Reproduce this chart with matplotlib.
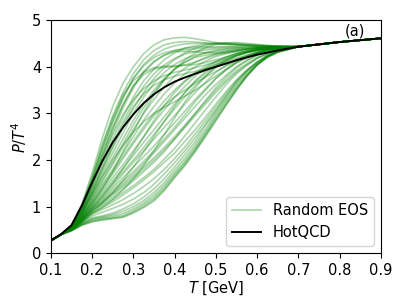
import matplotlib
matplotlib.use("Agg")
import matplotlib.pyplot as plt
import numpy as np

# temperature grid (GeV)
T_low = [0.1, 0.125]
T_mid = [0.15, 0.175, 0.2, 0.225, 0.25, 0.275, 0.3, 0.325, 0.35, 0.375, 0.4,
         0.425, 0.45, 0.475, 0.5, 0.525, 0.55, 0.575, 0.6, 0.625, 0.65]
T_high = [0.7, 0.8, 0.9]
hrg_start = [0.27, 0.40]       # common values at T = 0.1, 0.125
qgp_tail = [4.43, 4.53, 4.61]  # common values at T = 0.7, 0.8, 0.9

# P/T^4 of each random EOS on T_mid
rand_mid = [
    [.60, 1.05, 1.72, 2.48, 3.15, 3.65, 4.00, 4.28, 4.47, 4.58, 4.62, 4.63, 4.60, 4.56, 4.52, 4.50, 4.48, 4.47, 4.45, 4.44, 4.44],
    [.59, 1.02, 1.65, 2.35, 2.95, 3.45, 3.85, 4.15, 4.35, 4.47, 4.52, 4.54, 4.53, 4.51, 4.50, 4.48, 4.47, 4.46, 4.45, 4.44, 4.44],
    [.58, .98, 1.55, 2.20, 2.80, 3.32, 3.75, 4.05, 4.25, 4.38, 4.45, 4.49, 4.50, 4.50, 4.49, 4.48, 4.47, 4.46, 4.45, 4.44, 4.44],
    [.59, .99, 1.60, 2.30, 2.90, 3.40, 3.70, 3.88, 3.98, 4.01, 4.02, 4.03, 4.05, 4.09, 4.15, 4.21, 4.28, 4.33, 4.38, 4.41, 4.42],
    [.57, .92, 1.45, 2.05, 2.60, 3.12, 3.55, 3.88, 4.10, 4.25, 4.35, 4.40, 4.42, 4.43, 4.43, 4.43, 4.43, 4.43, 4.43, 4.43, 4.43],
    [.58, .94, 1.50, 2.12, 2.70, 3.20, 3.60, 3.83, 3.95, 3.99, 4.00, 4.04, 4.10, 4.18, 4.25, 4.30, 4.35, 4.38, 4.40, 4.41, 4.42],
    [.57, .90, 1.40, 1.92, 2.45, 2.92, 3.35, 3.70, 3.95, 4.15, 4.30, 4.40, 4.45, 4.48, 4.50, 4.49, 4.48, 4.46, 4.45, 4.44, 4.43],
    [.56, .88, 1.35, 1.85, 2.35, 2.82, 3.25, 3.58, 3.85, 4.04, 4.18, 4.27, 4.33, 4.36, 4.38, 4.39, 4.40, 4.40, 4.41, 4.41, 4.42],
    [.57, .91, 1.42, 2.00, 2.55, 2.98, 3.30, 3.53, 3.70, 3.81, 3.88, 3.93, 3.98, 4.04, 4.10, 4.17, 4.24, 4.30, 4.35, 4.38, 4.41],
    [.56, .86, 1.30, 1.78, 2.25, 2.70, 3.10, 3.45, 3.75, 3.98, 4.15, 4.30, 4.40, 4.46, 4.50, 4.51, 4.50, 4.48, 4.47, 4.45, 4.44],
    [.56, .85, 1.28, 1.72, 2.15, 2.58, 3.00, 3.35, 3.65, 3.88, 4.05, 4.17, 4.25, 4.30, 4.33, 4.35, 4.37, 4.38, 4.40, 4.41, 4.42],
    [.55, .84, 1.25, 1.65, 2.05, 2.45, 2.85, 3.20, 3.50, 3.75, 3.95, 4.10, 4.22, 4.30, 4.35, 4.38, 4.40, 4.41, 4.42, 4.42, 4.43],
    [.56, .87, 1.32, 1.82, 2.30, 2.75, 3.15, 3.42, 3.60, 3.72, 3.80, 3.85, 3.90, 3.95, 4.00, 4.07, 4.15, 4.23, 4.30, 4.36, 4.40],
    [.55, .82, 1.20, 1.58, 1.95, 2.35, 2.75, 3.12, 3.45, 3.72, 3.95, 4.15, 4.30, 4.41, 4.48, 4.51, 4.52, 4.50, 4.48, 4.46, 4.44],
    [.55, .81, 1.18, 1.54, 1.90, 2.28, 2.65, 3.00, 3.30, 3.57, 3.80, 3.97, 4.10, 4.20, 4.28, 4.33, 4.36, 4.38, 4.40, 4.41, 4.42],
    [.54, .80, 1.15, 1.48, 1.80, 2.15, 2.50, 2.85, 3.15, 3.42, 3.65, 3.85, 4.00, 4.12, 4.22, 4.28, 4.33, 4.36, 4.39, 4.41, 4.42],
    [.54, .79, 1.12, 1.44, 1.75, 2.08, 2.40, 2.72, 3.00, 3.27, 3.50, 3.70, 3.88, 4.01, 4.12, 4.21, 4.28, 4.33, 4.37, 4.40, 4.42],
    [.54, .78, 1.10, 1.40, 1.70, 2.03, 2.35, 2.66, 2.95, 3.17, 3.35, 3.50, 3.65, 3.78, 3.90, 4.02, 4.12, 4.22, 4.30, 4.36, 4.40],
    [.53, .77, 1.08, 1.35, 1.62, 1.90, 2.20, 2.50, 2.80, 3.08, 3.35, 3.58, 3.80, 3.96, 4.10, 4.20, 4.28, 4.33, 4.37, 4.40, 4.42],
    [.53, .76, 1.05, 1.30, 1.55, 1.82, 2.10, 2.38, 2.65, 2.93, 3.20, 3.45, 3.68, 3.86, 4.02, 4.14, 4.24, 4.31, 4.36, 4.39, 4.41],
    [.53, .75, 1.02, 1.26, 1.50, 1.75, 2.00, 2.27, 2.55, 2.83, 3.10, 3.36, 3.60, 3.80, 3.98, 4.11, 4.22, 4.30, 4.35, 4.38, 4.41],
    [.52, .74, 1.00, 1.22, 1.45, 1.70, 1.95, 2.20, 2.45, 2.70, 2.95, 3.20, 3.45, 3.67, 3.88, 4.03, 4.16, 4.25, 4.32, 4.37, 4.40],
    [.52, .73, .98, 1.18, 1.40, 1.62, 1.85, 2.07, 2.30, 2.55, 2.80, 3.05, 3.30, 3.53, 3.75, 3.93, 4.08, 4.19, 4.28, 4.34, 4.39],
    [.52, .72, .96, 1.15, 1.35, 1.55, 1.75, 1.97, 2.20, 2.45, 2.70, 2.97, 3.25, 3.50, 3.75, 3.94, 4.10, 4.21, 4.30, 4.36, 4.40],
    [.52, .72, .95, 1.12, 1.30, 1.50, 1.70, 1.92, 2.15, 2.40, 2.65, 2.90, 3.15, 3.40, 3.62, 3.82, 4.00, 4.14, 4.25, 4.32, 4.38],
    [.51, .71, .93, 1.10, 1.28, 1.46, 1.65, 1.85, 2.05, 2.27, 2.50, 2.75, 3.00, 3.25, 3.50, 3.72, 3.92, 4.07, 4.20, 4.29, 4.37],
    [.51, .70, .92, 1.08, 1.25, 1.42, 1.60, 1.80, 2.00, 2.22, 2.45, 2.70, 2.95, 3.20, 3.45, 3.68, 3.88, 4.04, 4.18, 4.28, 4.36],
    [.51, .69, .90, 1.05, 1.20, 1.37, 1.55, 1.75, 1.95, 2.18, 2.45, 2.72, 3.00, 3.28, 3.55, 3.78, 3.98, 4.13, 4.25, 4.32, 4.38],
    [.51, .68, .88, 1.02, 1.15, 1.30, 1.45, 1.62, 1.80, 2.02, 2.25, 2.52, 2.80, 3.08, 3.35, 3.62, 3.85, 4.03, 4.18, 4.28, 4.37],
    [.50, .67, .86, .98, 1.10, 1.25, 1.40, 1.57, 1.75, 1.95, 2.15, 2.40, 2.65, 2.92, 3.20, 3.47, 3.72, 3.93, 4.10, 4.24, 4.34],
    [.50, .66, .84, .94, 1.04, 1.15, 1.28, 1.43, 1.60, 1.80, 2.03, 2.28, 2.56, 2.85, 3.14, 3.43, 3.70, 3.92, 4.10, 4.24, 4.34],
    [.50, .65, .80, .88, .96, 1.05, 1.16, 1.30, 1.48, 1.70, 1.94, 2.20, 2.48, 2.78, 3.08, 3.38, 3.67, 3.91, 4.10, 4.24, 4.33],
    [.50, .64, .76, .80, .86, .95, 1.06, 1.20, 1.38, 1.60, 1.85, 2.12, 2.40, 2.74, 3.05, 3.36, 3.65, 3.89, 4.08, 4.22, 4.32],
    [.49, .63, .74, .78, .83, .90, 1.00, 1.13, 1.30, 1.52, 1.78, 2.04, 2.33, 2.66, 3.00, 3.31, 3.60, 3.85, 4.06, 4.21, 4.31],
    [.49, .62, .72, .76, .80, .85, .95, 1.08, 1.24, 1.46, 1.72, 1.98, 2.27, 2.60, 2.95, 3.27, 3.56, 3.82, 4.04, 4.20, 4.31],
    [.49, .61, .70, .74, .77, .81, .91, 1.04, 1.19, 1.41, 1.68, 1.94, 2.23, 2.56, 2.90, 3.22, 3.53, 3.80, 4.04, 4.21, 4.32],
    [.48, .60, .68, .72, .75, .78, .88, 1.00, 1.15, 1.37, 1.64, 1.90, 2.20, 2.53, 2.86, 3.19, 3.51, 3.80, 4.04, 4.22, 4.33],
    [.48, .60, .67, .71, .74, .77, .86, .98, 1.12, 1.34, 1.62, 1.88, 2.18, 2.50, 2.84, 3.18, 3.50, 3.80, 4.04, 4.22, 4.33],
    [.53, .77, 1.05, 1.38, 1.75, 2.18, 2.60, 3.02, 3.40, 3.72, 3.95, 4.10, 4.20, 4.25, 4.28, 4.30, 4.32, 4.34, 4.37, 4.39, 4.41],
    [.52, .73, .97, 1.22, 1.50, 1.82, 2.15, 2.50, 2.85, 3.17, 3.45, 3.68, 3.85, 3.97, 4.05, 4.11, 4.18, 4.24, 4.30, 4.35, 4.39],
    [.51, .70, .90, 1.08, 1.30, 1.56, 1.85, 2.17, 2.50, 2.83, 3.15, 3.45, 3.70, 3.90, 4.05, 4.16, 4.25, 4.31, 4.35, 4.38, 4.41],
    [.50, .67, .85, .98, 1.15, 1.36, 1.60, 1.88, 2.20, 2.55, 2.90, 3.25, 3.55, 3.80, 4.00, 4.14, 4.25, 4.32, 4.36, 4.39, 4.41],
    [.56, .86, 1.25, 1.65, 2.00, 2.32, 2.60, 2.82, 3.00, 3.13, 3.25, 3.37, 3.50, 3.65, 3.80, 3.95, 4.10, 4.21, 4.30, 4.36, 4.40],
    [.58, .97, 1.58, 2.25, 2.85, 3.35, 3.75, 4.02, 4.20, 4.30, 4.35, 4.37, 4.38, 4.40, 4.41, 4.42, 4.43, 4.43, 4.43, 4.43, 4.43],
    [.57, .93, 1.48, 2.10, 2.68, 3.18, 3.58, 3.90, 4.12, 4.25, 4.32, 4.33, 4.32, 4.30, 4.30, 4.32, 4.35, 4.38, 4.40, 4.42, 4.43],
]

# HotQCD
T_qcd = [0.1, 0.125, 0.15, 0.175, 0.2, 0.225, 0.25, 0.275, 0.3, 0.325, 0.35, 0.375, 0.4,
         0.425, 0.45, 0.475, 0.5, 0.55, 0.6, 0.65, 0.7, 0.8, 0.9]
P_qcd = [0.27, 0.41, 0.60, 1.02, 1.52, 1.98, 2.38, 2.70, 2.98, 3.22, 3.41, 3.56, 3.68,
         3.77, 3.85, 3.93, 4.00, 4.14, 4.26, 4.35, 4.43, 4.53, 4.61]

T_rand = T_low + T_mid + T_high

fig = plt.figure(figsize=(4.07, 3.05), dpi=100)
ax = fig.add_axes([0.125, 0.17, 0.811, 0.764])

for i, mid in enumerate(rand_mid):
    ax.plot(T_rand, hrg_start + mid + qgp_tail, color='green', alpha=0.33, lw=1.2,
            label='Random EOS' if i == 0 else None)
ax.plot(T_qcd, P_qcd, color='black', lw=1.4, label='HotQCD')

ax.set_xlim(0.1, 0.9)
ax.set_ylim(0, 5)
ax.set_xticks([0.1, 0.2, 0.3, 0.4, 0.5, 0.6, 0.7, 0.8, 0.9])
ax.set_yticks([0, 1, 2, 3, 4, 5])
ax.tick_params(labelsize=10.5)
ax.set_xlabel('$T$ [GeV]', fontsize=10.5, labelpad=1)
ax.set_ylabel('$P/T^4$', fontsize=10.5, labelpad=2)
ax.text(0.92, 0.955, '(a)', transform=ax.transAxes, ha='center', va='center', fontsize=10.5)
ax.legend(loc='lower right', fontsize=10.5)

fig.savefig('out.png', dpi=100)
